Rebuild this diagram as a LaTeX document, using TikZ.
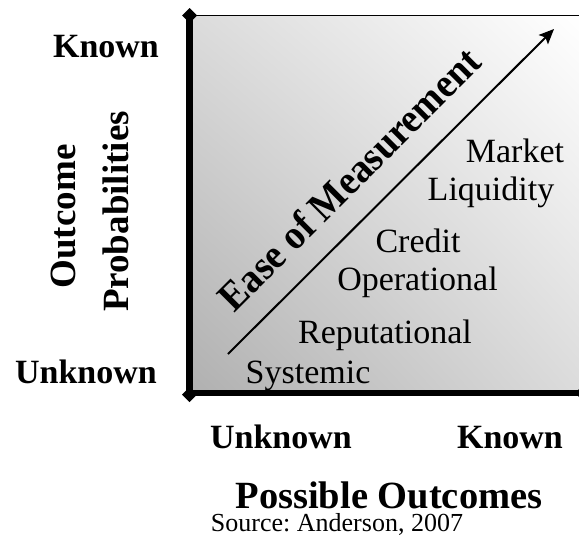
\documentclass[tikz,border=0pt]{standalone}
\usepackage{fontspec}
\setmainfont{Liberation Serif}
\usetikzlibrary{arrows.meta,shadings}
\begin{document}
\frenchspacing
\begin{tikzpicture}[x=1pt,y=-1pt,
  axislbl/.style={font=\fontsize{34}{40}\selectfont\bfseries, anchor=base, inner sep=0pt},
  sidelbl/.style={font=\fontsize{37}{42}\selectfont\bfseries, anchor=base, inner sep=0pt, rotate=90},
  risk/.style={font=\fontsize{34}{40}\selectfont, anchor=base, inner sep=0pt},
  tipd/.tip={Diamond[length=15pt,width=15pt]},
  axisline/.style={line width=6.5pt},
]
\clip (0,0) rectangle (579,541);

% corners of the plotting area
\coordinate (O) at (189.5,393);
\coordinate (Ytop) at (189.5,15.5);
\coordinate (Xend) at (579,393);
\coordinate (TR) at (579,15.5);

% diagonal grey shading
\shade[lower left=black!31, upper right=white, upper left=black!14, lower right=black!14]
  (O) rectangle (TR);

% frame and axes
\draw[line width=1.5pt] (Ytop) -- (TR);
\coordinate (Ybot) at (189.5,402);
\coordinate (Yend) at (189.5,8);
\coordinate (Xfar) at (590,393);
\draw[axisline, tipd-tipd] (Ybot) -- (Yend);
\draw[axisline, -tipd] (O) -- (Xfar);

% ease of measurement arrow
\coordinate (A0) at (228,354);
\coordinate (A1) at (554,29);
\draw[line width=2pt, -{Stealth[length=15pt,width=13pt,inset=3pt]}] (A0) -- (A1);
\node[font=\fontsize{41}{46}\selectfont\bfseries, anchor=base, inner sep=0pt,
      rotate=45, xscale=0.93]
  (ease) at (359,189) {Ease of Measurement};

% risk types
\node[risk] (market) at (515,162) {Market};
\node[risk] (liquidity) at (491,200) {Liquidity};
\node[risk] (credit) at (418,252) {Credit};
\node[risk] (operational) at (417.5,290) {Operational};
\node[risk] (reputational) at (385,343) {Reputational};
\node[risk] (systemic) at (308,383) {Systemic};

% axis labels
\node[axislbl] (yknown) at (106,57) {Known};
\node[axislbl] (yunknown) at (86,383) {Unknown};
\node[sidelbl] (outcome) at (75,216.5) {Outcome};
\node[sidelbl] (prob) at (128,211.5) {Probabilities};
\node[axislbl] (xunknown) at (281,448) {Unknown};
\node[axislbl] (xknown) at (510,448) {Known};
\node[font=\fontsize{38.5}{44}\selectfont\bfseries, anchor=base, inner sep=0pt]
  (xtitle) at (389,508) {Possible Outcomes};
\node[font=\fontsize{26}{31}\selectfont, anchor=base, inner sep=0pt]
  (source) at (337,531) {Source: Anderson, 2007};
\end{tikzpicture}
\end{document}
